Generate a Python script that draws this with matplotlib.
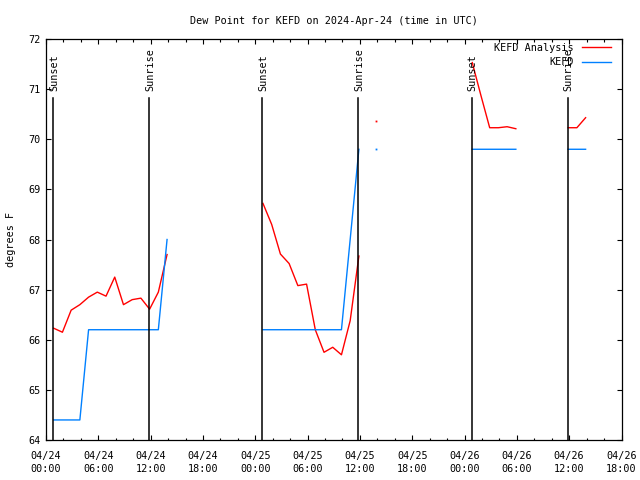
import numpy as np
import matplotlib
matplotlib.use("Agg")
import matplotlib.pyplot as plt
from matplotlib.ticker import MultipleLocator, FixedLocator

nan = np.nan

# observation times: hours since 2024-04-24 00:00 UTC (hourly at :53)
obs_hour = np.arange(62) + 53 / 60.0

analysis = [66.23, 66.15, 66.59, 66.70, 66.85, 66.95, 66.87, 67.25, 66.70, 66.80,
            66.83, 66.61, 66.95, 67.70, nan, nan, nan, nan, nan, nan,
            nan, nan, nan, nan, 68.72, 68.30, 67.71, 67.52, 67.08, 67.11,
            66.20, 65.75, 65.85, 65.70, 66.38, 67.67, nan, 70.37, nan, nan,
            nan, nan, nan, nan, nan, nan, nan, nan, 71.53, 70.87,
            70.23, 70.23, 70.25, 70.21, nan, nan, nan, nan, nan, 70.23,
            70.23, 70.43]

station = [64.4, 64.4, 64.4, 64.4, 66.2, 66.2, 66.2, 66.2, 66.2, 66.2,
           66.2, 66.2, 66.2, 68.0, nan, nan, nan, nan, nan, nan,
           nan, nan, nan, nan, 66.2, 66.2, 66.2, 66.2, 66.2, 66.2,
           66.2, 66.2, 66.2, 66.2, 68.0, 69.8, nan, 69.8, nan, nan,
           nan, nan, nan, nan, nan, nan, nan, nan, 69.8, 69.8,
           69.8, 69.8, 69.8, 69.8, nan, nan, nan, nan, nan, 69.8,
           69.8, 69.8]

sun_hours = [0.83, 11.85, 24.80, 35.81, 48.82, 59.83]
sun_labels = ["Sunset", "Sunrise", "Sunset", "Sunrise", "Sunset", "Sunrise"]

xtick_hours = [0, 6, 12, 18, 24, 30, 36, 42, 48, 54, 60, 66]
xtick_labels = ["04/24\n00:00", "04/24\n06:00", "04/24\n12:00", "04/24\n18:00",
                "04/25\n00:00", "04/25\n06:00", "04/25\n12:00", "04/25\n18:00",
                "04/26\n00:00", "04/26\n06:00", "04/26\n12:00", "04/26\n18:00"]

RED = "#ff0000"
BLUE = "#0080ff"
FONT = "DejaVu Sans Mono"
FS = 7.3

plt.rcParams["font.family"] = FONT
plt.rcParams["font.size"] = FS

fig = plt.figure(figsize=(6.4, 4.8), dpi=100)
ax = fig.add_axes([46 / 640, 40 / 480, 575.5 / 640, 401 / 480])

t = np.asarray(obs_hour)
a = np.asarray(analysis, dtype=float)
s = np.asarray(station, dtype=float)

ax.plot(t, a, color=RED, lw=1.0, label="KEFD Analysis")
ax.plot(t, s, color=BLUE, lw=1.0, label="KEFD")


def isolated(v):
    ok = ~np.isnan(v)
    prev = np.concatenate([[False], ok[:-1]])
    nxt = np.concatenate([ok[1:], [False]])
    return ok & ~prev & ~nxt


ia = isolated(a)
isb = isolated(s)
ax.plot(t[ia], a[ia], ls="none", marker="s", ms=1.3, mew=0, color=RED)
ax.plot(t[isb], s[isb], ls="none", marker="s", ms=1.3, mew=0, color=BLUE)

for h, lab in zip(sun_hours, sun_labels):
    ax.plot([h, h], [64, 70.82], color="black", lw=1.1)
    ax.text(h + 0.12, 70.97, lab, rotation=90, ha="center", va="bottom",
            fontsize=FS)

ax.set_xlim(0, 66)
ax.set_ylim(64, 72)
ax.xaxis.set_major_locator(FixedLocator(xtick_hours))
ax.set_xticklabels(xtick_labels, linespacing=1.35)
ax.xaxis.set_minor_locator(MultipleLocator(2))
ax.yaxis.set_major_locator(MultipleLocator(1))
ax.tick_params(which="both", direction="in", top=True, right=True, width=0.8)
ax.tick_params(which="major", length=3.5)
ax.tick_params(which="minor", length=1.8)
ax.tick_params(axis="x", pad=8)
ax.tick_params(axis="y", pad=4)
for sp in ax.spines.values():
    sp.set_linewidth(0.9)

ax.set_title("Dew Point for KEFD on 2024-Apr-24 (time in UTC)", fontsize=FS, pad=11)
ax.set_ylabel("degrees F", fontsize=FS)
ax.yaxis.set_label_coords(-0.052, 0.5)

leg = ax.legend(loc="upper right", frameon=False, markerfirst=False,
                handlelength=2.8, handletextpad=0.8, labelspacing=0.42,
                borderaxespad=0.0, borderpad=0.0, fontsize=FS,
                bbox_to_anchor=(1 - 11 / 575.5, 1 - 4 / 401))

fig.savefig("out.png", dpi=100)
